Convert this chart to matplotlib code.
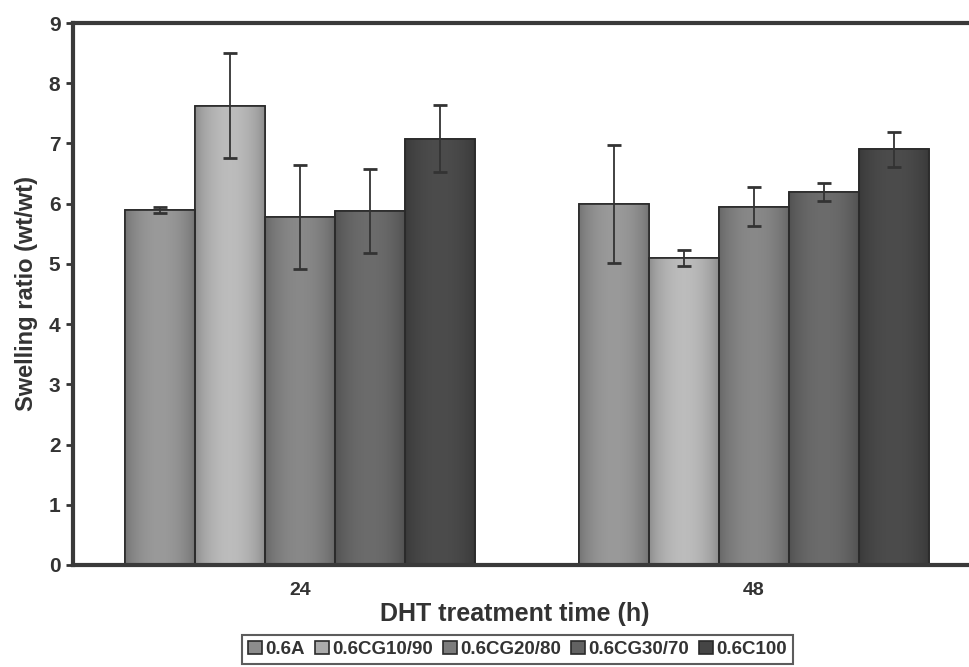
import matplotlib.pyplot as plt
import numpy as np
from matplotlib.colors import to_rgb

plt.rcParams['font.family'] = ['Liberation Sans', 'DejaVu Sans']
plt.rcParams['font.weight'] = 'bold'

times = ["24", "48"]
samples = ["0.6A", "0.6CG10/90", "0.6CG20/80", "0.6CG30/70", "0.6C100"]
swelling = [
    [5.90, 6.00],
    [7.63, 5.10],
    [5.78, 5.95],
    [5.88, 6.20],
    [7.08, 6.90],
]
errors = [
    [0.05, 0.98],
    [0.87, 0.13],
    [0.87, 0.32],
    [0.70, 0.15],
    [0.56, 0.29],
]
colors = ["#8c8c8c", "#ababab", "#7c7c7c", "#626262", "#454545"]

fig = plt.figure(figsize=(9.69, 6.67), dpi=100)
ax = fig.add_axes([0.0753, 0.153, 0.937, 0.8125])

# horizontal shading so the bars look rounded
t = np.linspace(0, 1, 64)
shade = 0.82 + 0.28 * np.sin(np.pi * t) ** 0.7

x = np.arange(len(times))
width = 0.154
for i, (name, vals, errs, c) in enumerate(zip(samples, swelling, errors, colors)):
    pos = x + (i - 2) * width
    bars = ax.bar(pos, vals, width, color=c, edgecolor="#2a2a2a", linewidth=1.2,
                  label=name, zorder=2)
    rgb = np.clip(np.array(to_rgb(c))[None, None, :] * shade[None, :, None], 0, 1)
    for rect in bars:
        x0, y0 = rect.get_x(), rect.get_y()
        im = ax.imshow(rgb, extent=[x0, x0 + rect.get_width(), y0, y0 + rect.get_height()],
                       aspect="auto", interpolation="bilinear", zorder=2.1)
        im.set_clip_path(rect)
        ax.bar(rect.get_x() + rect.get_width() / 2, rect.get_height(), rect.get_width(),
               fill=False, edgecolor="#2a2a2a", linewidth=1.2, zorder=2.2)
    ax.errorbar(pos, vals, yerr=errs, fmt="none", ecolor="#333333",
                elinewidth=1.3, capsize=5, capthick=2, zorder=3)

ax.set_aspect("auto")
ax.set_xlim(-0.5, 1.5)
ax.set_ylim(0, 9)
ax.set_yticks(range(10))
ax.set_xticks(x)
ax.set_xticklabels(times, fontsize=14, fontweight="bold", color="#333333")
ax.tick_params(axis="x", length=0, pad=12)
ax.tick_params(axis="y", length=5, width=2, labelsize=15, colors="#333333",
               direction="out", pad=4)

for side in ["left", "bottom", "top"]:
    ax.spines[side].set_linewidth(3)
    ax.spines[side].set_color("#3a3a3a")
ax.spines["right"].set_visible(False)

ax.set_ylabel("Swelling ratio (wt/wt)", fontsize=17, fontweight="bold",
              color="#333333", labelpad=8)
ax.set_xlabel("DHT treatment time (h)", fontsize=18, fontweight="bold",
              color="#333333")
ax.xaxis.set_label_coords(0.487, -0.069)

leg = fig.legend(loc="lower center", bbox_to_anchor=(0.534, -0.009), ncol=5,
                 fontsize=13.5, frameon=True, fancybox=False, handlelength=0.75,
                 handleheight=0.75, handletextpad=0.2, columnspacing=0.5,
                 borderpad=0.3, edgecolor="#333333")
leg.get_frame().set_linewidth(1.5)
for txt in leg.get_texts():
    txt.set_fontweight("bold")
    txt.set_color("#333333")

fig.savefig("out.png", dpi=100)
